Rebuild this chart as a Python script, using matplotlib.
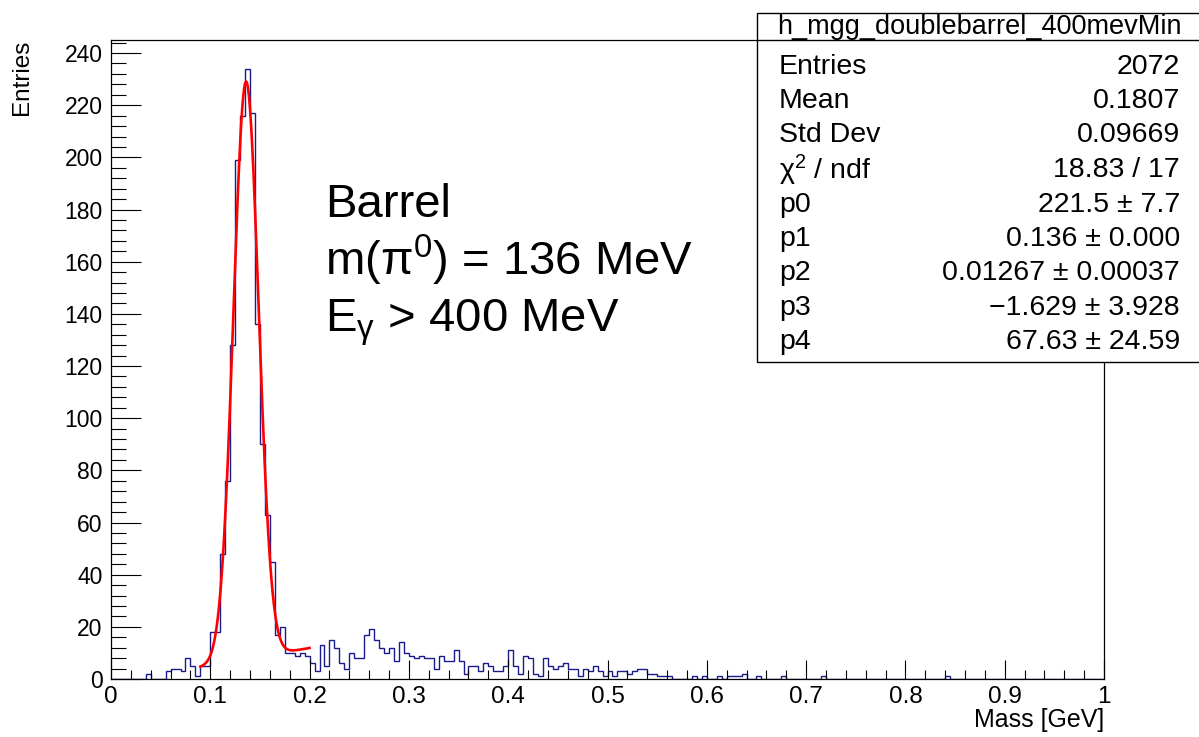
import numpy as np
import matplotlib
matplotlib.use("Agg")
import matplotlib.pyplot as plt
from matplotlib.patches import Rectangle
from matplotlib.lines import Line2D
from matplotlib.ticker import MultipleLocator, FixedLocator

plt.rcParams["font.family"] = ["Liberation Sans", "DejaVu Sans"]
plt.rcParams["mathtext.fontset"] = "custom"
plt.rcParams["mathtext.rm"] = "Liberation Sans"
plt.rcParams["mathtext.it"] = "Liberation Sans:italic"

# diphoton mass histogram, 200 bins between 0 and 1 GeV
x_min, x_max, n_bins = 0.0, 1.0, 200
counts = [
    0, 0, 0, 0, 0, 0, 0, 2, 0, 0, 0, 3, 4, 4, 3, 8, 5, 1, 5, 5,
    18, 18, 48, 76, 128, 199, 216, 234, 217, 136, 90, 63, 45, 17, 20, 10, 10, 9, 10, 9,
    6, 3, 13, 5, 15, 12, 6, 4, 10, 8, 8, 17, 19, 15, 12, 10, 12, 7, 14, 10,
    9, 8, 9, 8, 8, 4, 9, 7, 7, 11, 7, 2, 5, 5, 3, 6, 5, 3, 3, 5,
    11, 5, 2, 9, 8, 2, 1, 8, 5, 4, 5, 6, 4, 4, 1, 4, 3, 5, 3, 1,
    3, 1, 3, 3, 2, 3, 4, 4, 2, 2, 1, 1, 1, 0, 0, 0, 0, 1, 0, 1,
    0, 0, 1, 0, 1, 1, 1, 2, 0, 0, 1, 0, 0, 0, 0, 1, 0, 0, 0, 0,
    0, 0, 0, 1, 0, 0, 0, 0, 0, 0, 0, 0, 0, 0, 0, 0, 0, 0, 0, 0,
    0, 0, 0, 0, 0, 0, 0, 0, 1, 0, 0, 0, 0, 0, 0, 0, 0, 0, 0, 0,
    0, 0, 0, 0, 0, 0, 0, 0, 0, 0, 0, 0, 0, 0, 0, 0, 0, 0, 0, 0,
]

# gaus + pol1 fit: p0*exp(-0.5*((x-p1)/p2)^2) + p3 + p4*x
fit_params = [221.5, 0.136, 0.01267, -1.629, 67.63]
fit_range = (0.09, 0.20)

hist_name = "h_mgg_doublebarrel_400mevMin"
stat_labels = ["Entries", "Mean", "Std Dev", r"χ$^\mathregular{2}$ / ndf",
               "p0", "p1", "p2", "p3", "p4"]
stat_values = ["2072", "0.1807", "0.09669", "18.83 / 17",
               "221.5 ± 7.7", "0.136 ± 0.000", "0.01267 ± 0.00037",
               "−1.629 ± 3.928", "67.63 ± 24.59"]

info_lines = ["Barrel", r"m(π$^\mathregular{0}$) = 136 MeV",
              r"E$_\mathregular{γ}$ > 400 MeV"]

W, H = 1199, 737
fig = plt.figure(figsize=(W / 100, H / 100), dpi=100)


def fx(px):
    return px / W


def fy(py):
    return 1 - py / H


ax = fig.add_axes([fx(111), fy(679), fx(1104) - fx(111), fy(40) - fy(679)])

edges = np.linspace(x_min, x_max, n_bins + 1)
ax.stairs(counts, edges, color="#1a1a8c", lw=1.0, baseline=None)

p0, p1, p2, p3, p4 = fit_params
xf = np.linspace(fit_range[0], fit_range[1], 400)
yf = p0 * np.exp(-0.5 * ((xf - p1) / p2) ** 2) + p3 + p4 * xf
ax.plot(xf, yf, color="red", lw=1.9)

ax.set_xlim(0, 1)
ax.set_ylim(0, 245)
ax.xaxis.set_minor_locator(MultipleLocator(0.02))
ax.yaxis.set_major_locator(FixedLocator(np.arange(0, 241, 20)))
ax.yaxis.set_minor_locator(FixedLocator(np.arange(0, 245, 4)))
ax.set_xticks(np.arange(0, 1.01, 0.1))
ax.set_xticklabels(["0", "0.1", "0.2", "0.3", "0.4", "0.5", "0.6", "0.7", "0.8", "0.9", "1"])

ax.tick_params(axis="x", which="major", direction="in", length=13.7, width=0.8,
               labelsize=17.5, pad=5)
ax.tick_params(axis="x", which="minor", direction="in", length=6.8, width=0.8)
ax.tick_params(axis="y", which="major", direction="in", length=21.6, width=0.8,
               labelsize=16.5, pad=6)
ax.tick_params(axis="y", which="minor", direction="in", length=10.8, width=0.8)
for s in ax.spines.values():
    s.set_linewidth(0.9)
    s.set_color("black")

fig.text(fx(22), fy(40), "Entries", rotation=90, ha="center", va="top", fontsize=17.5)
fig.text(fx(1104), fy(720), "Mass [GeV]", ha="right", va="center", fontsize=18)

# annotation block
for line, base in zip(info_lines, [217, 275, 331]):
    fig.text(fx(325), fy(base), line, ha="left", va="baseline", fontsize=34)

# stats box
box = Rectangle((fx(757), fy(362)), 1.0 - fx(757) + 0.01, fy(12.7) - fy(362),
                transform=fig.transFigure, facecolor="white", edgecolor="black",
                lw=1.0, zorder=5, clip_on=False)
fig.add_artist(box)
fig.add_artist(Line2D([fx(757), 1.0], [fy(40), fy(40)], transform=fig.transFigure,
                      color="black", lw=1.0, zorder=6))
fig.text(fx(979), fy(27), hist_name, ha="center", va="center", fontsize=19.5, zorder=7)
for i, (lab, val) in enumerate(zip(stat_labels, stat_values)):
    yy = fy(66.5 + 34.5 * i)
    fig.text(fx(779), yy, lab, ha="left", va="center", fontsize=20.5, zorder=7)
    fig.text(fx(1180), yy, val, ha="right", va="center", fontsize=20.5, zorder=7)

fig.savefig("out.png", dpi=100)
